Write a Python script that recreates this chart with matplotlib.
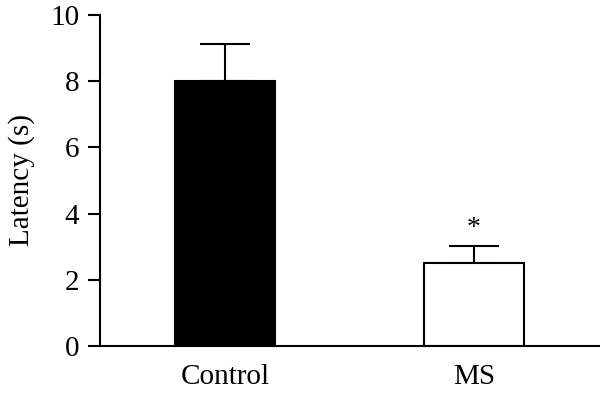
import numpy as np
import matplotlib.pyplot as plt

plt.rcParams['font.family'] = ['Liberation Serif', 'DejaVu Serif']

groups = ["Control", "MS"]
means = [8.0, 2.52]
errs = [1.12, 0.51]
colors = ["black", "white"]

fig = plt.figure(figsize=(6, 3.97), dpi=100)
ax = fig.add_axes([0.1667, 0.1285, 0.8333, 0.8338])

x = np.arange(len(groups))
ax.errorbar(x, means, yerr=[np.zeros(len(errs)), errs], fmt="none",
            ecolor="black", elinewidth=1.5, capsize=18, capthick=1.5, zorder=1)
ax.bar(x, means, width=0.4, color=colors, edgecolor="black", linewidth=1.5, zorder=2)

ax.text(x[1], means[1] + errs[1] + 0.15, "*", ha="center", va="bottom", fontsize=20)

ax.set_xlim(-0.502, 1.506)
ax.set_ylim(0, 10)
ax.set_yticks([0, 2, 4, 6, 8, 10])
ax.set_xticks(x)
ax.set_xticklabels(groups)
ax.tick_params(axis="x", length=0, pad=13, labelsize=21)
ax.tick_params(axis="y", length=9, width=1.5, direction="out", pad=6, labelsize=21)
ax.set_ylabel("Latency (s)", fontsize=21, labelpad=11)

for s in ["top", "right"]:
    ax.spines[s].set_visible(False)
for s in ["left", "bottom"]:
    ax.spines[s].set_linewidth(1.5)

fig.savefig("out.png", dpi=100)
